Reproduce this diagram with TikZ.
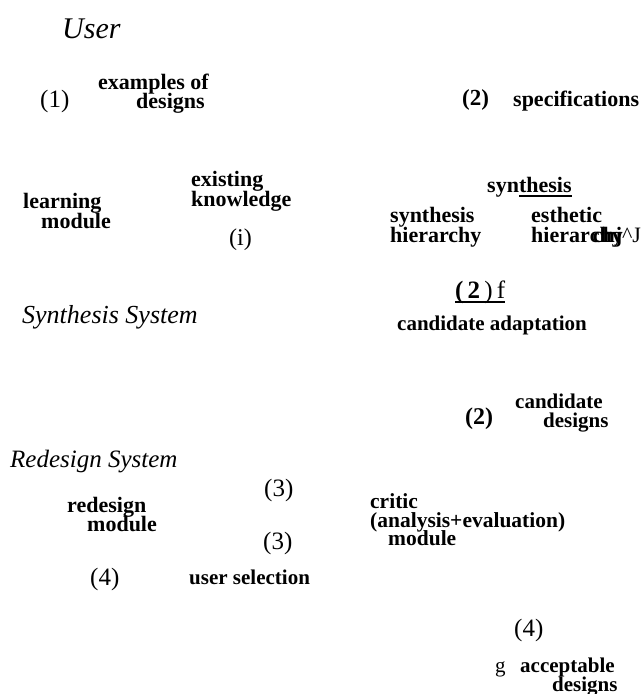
\documentclass[tikz,border=0pt]{standalone}
\usepackage{fontspec}
\setmainfont{Liberation Serif}
\newlength\ulwidth
% heavy underline drawn under its argument
\newcommand\heavyul[1]{\settowidth{\ulwidth}{#1}\rlap{\rule[-5pt]{\ulwidth}{2pt}}#1}
\begin{document}
\begin{tikzpicture}[x=1pt,y=-1pt,
  txt/.style={inner sep=0pt, anchor=base west},
  bold/.style={txt, font=\bfseries\fontsize{#1}{#1}\selectfont},
  bold/.default=22,
  plain/.style={txt, font=\fontsize{#1}{#1}\selectfont},
  plain/.default=25,
  head/.style={txt, font=\itshape\fontsize{#1}{#1}\selectfont},
  head/.default=26]
\useasboundingbox (0,0) rectangle (642,694);
\fill[white] (0,0) rectangle (642,694);

% system headings
\node[head=30] (user) at (62,38) {User};
\node[head=26] (synsys) at (22,323) {Synthesis System};
\node[head=25] (redsys) at (10,467) {Redesign System};

% user inputs
\node[plain] (n1) at (40,107) {(1)};
\node[bold] (ex1) at (98,89) {examples of};
\node[bold] (ex2) at (136,108) {designs};
\node[bold=23] (n2a) at (462,105) {(2)};
\node[bold] (spec) at (513,106) {specifications};

% learning side
\node[bold] (learn1) at (23,208) {learning};
\node[bold] (learn2) at (41,228) {module};
\node[bold] (know1) at (191,186) {existing};
\node[bold] (know2) at (191,206) {knowledge};
\node[plain=24] (ni) at (229,245) {(i)};

% synthesis module
\node[bold] (syn) at (487,192) {syn\heavyul{thesis}};
\node[bold] (sh1) at (390,222) {synthesis};
\node[bold] (sh2) at (390,242) {hierarchy};
\node[bold] (eh1) at (531,222) {esthetic};
\node[bold] (eh2) at (531,242) {hierar\rlap{chy}\hspace{3pt}chj\textmd{\^{}J}};
\node[plain=25] (n2f) at (455,298) {\heavyul{\textbf{(}\,\textbf{2}\,)\,f}};
\node[bold=21] (cadapt) at (397,330) {candidate adaptation};
\node[bold=24] (n2b) at (465,424) {(2)};
\node[bold=21] (cand1) at (515,408) {candidate};
\node[bold=21] (cand2) at (543,427) {designs};

% redesign system
\node[plain] (n3a) at (264,496) {(3)};
\node[bold] (red1) at (67,512) {redesign};
\node[bold] (red2) at (87,531) {module};
\node[bold=21.5] (crit1) at (370,508) {critic};
\node[bold=21.5] (crit2) at (370,527) {(analysis+evaluation)};
\node[bold=21.5] (crit3) at (388,545) {module};
\node[plain] (n3b) at (263,549) {(3)};
\node[plain] (n4a) at (90,585) {(4)};
\node[bold=21] (usel) at (189,584) {user selection};
\node[plain] (n4b) at (514,636) {(4)};
\node[plain=21] (g) at (495,672) {g};
\node[bold=21] (acc1) at (520,672) {acceptable};
\node[bold=21] (acc2) at (552,691) {designs};
\end{tikzpicture}
\end{document}
